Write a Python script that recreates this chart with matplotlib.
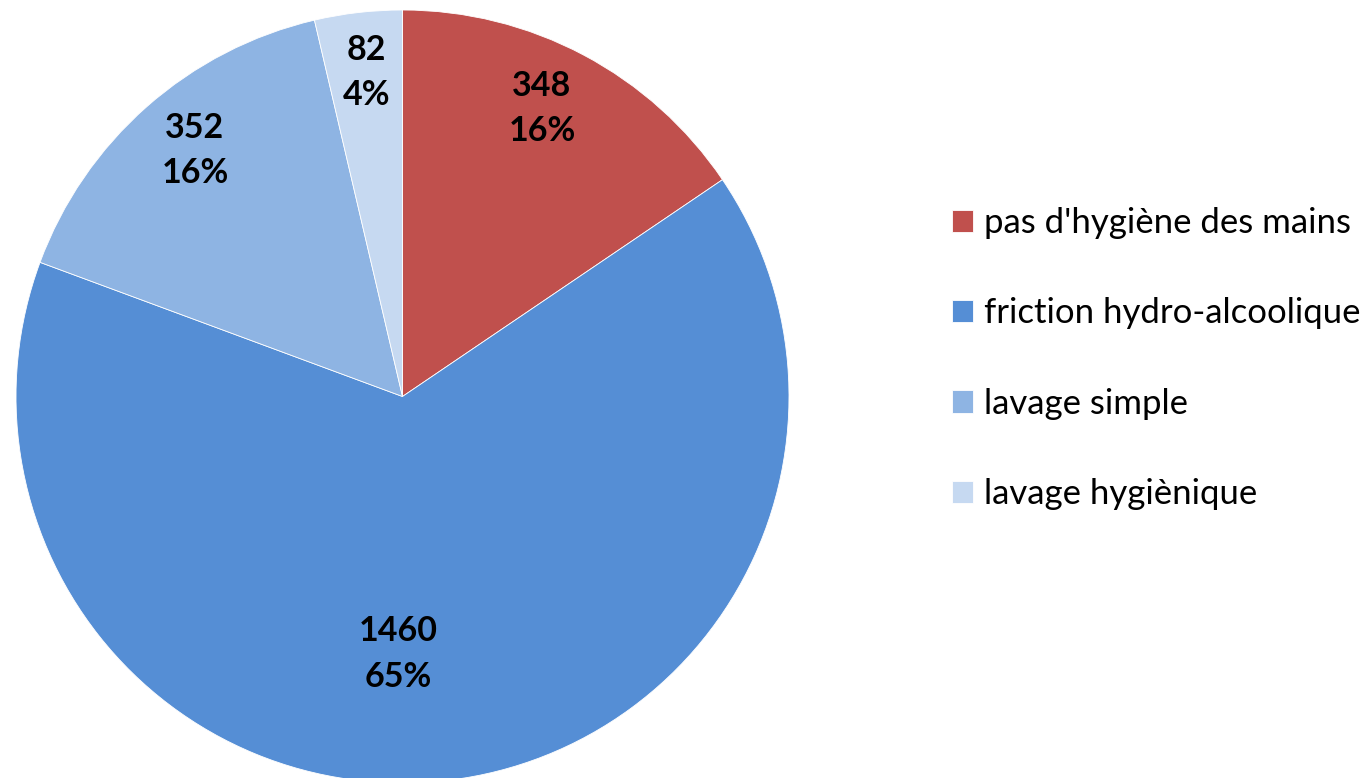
import matplotlib
matplotlib.use("Agg")
import matplotlib.pyplot as plt
import numpy as np

categories = ["pas d'hygiène des mains", "friction hydro-alcoolique", "lavage simple", "lavage hygiènique"]
values = [348, 1460, 352, 82]
percent_labels = ["16%", "65%", "16%", "4%"]
colors = ["#C0504D", "#558ED5", "#8EB4E3", "#C6D9F1"]
label_radius = [0.828, 0.666, 0.833, 0.843]
label_angle_shift = [-2.1, 7.9, 1.3, 0.3]

W, H = 1367, 778
fig = plt.figure(figsize=(W / 100, H / 100), dpi=100)
ax = fig.add_axes([0, 0, 1, 1])
cx, cy, R = 402.5, 396.5, 386.5

# y axis is inverted (pixel coords), so counterclock in data = clockwise on screen
wedges, _ = ax.pie(values, colors=colors, startangle=-90, counterclock=True,
                   center=(cx, cy), radius=R, frame=True,
                   wedgeprops=dict(edgecolor="white", linewidth=0.6))
ax.set_xlim(0, W)
ax.set_ylim(H, 0)
ax.set_aspect("equal")
ax.axis("off")

for w, v, p, lr, sh in zip(wedges, values, percent_labels, label_radius, label_angle_shift):
    ang = np.deg2rad((w.theta1 + w.theta2) / 2 + sh)
    x = cx + lr * R * np.cos(ang)
    y = cy + lr * R * np.sin(ang)
    ax.text(x, y, f"{v}\n{p}", ha="center", va="center", fontsize=24.5,
            fontweight="bold", family="Lato", linespacing=1.52, color="black")

leg = ax.legend(wedges, categories, loc="upper left", bbox_to_anchor=(952 / W, 1 - 207 / H),
                bbox_transform=fig.transFigure, frameon=False,
                prop=dict(family="Lato", size=25), handlelength=0.61, handleheight=0.61,
                handletextpad=0.3, labelspacing=1.68, borderpad=0, borderaxespad=0)
fig.savefig("out.png", dpi=100)
